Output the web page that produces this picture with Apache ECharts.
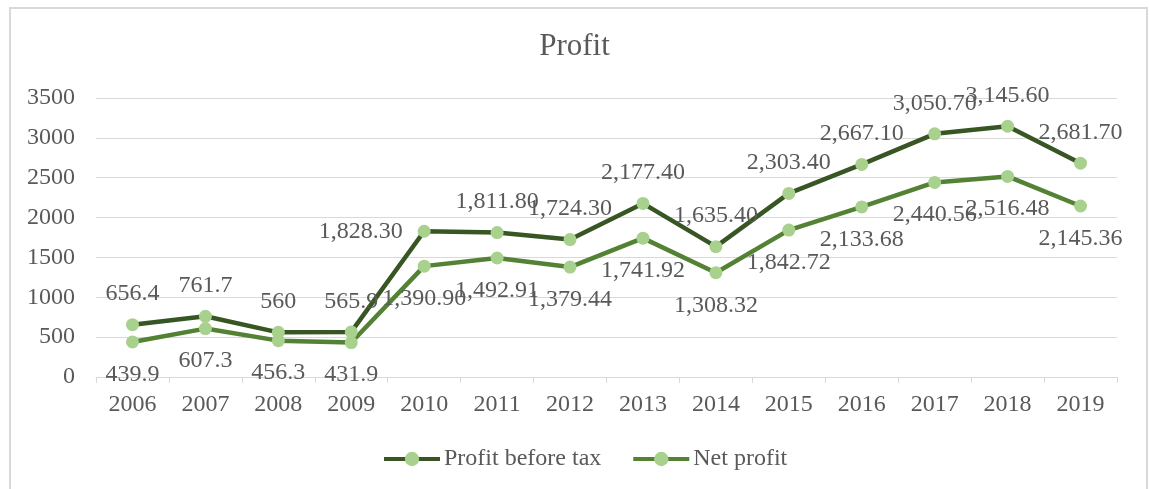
<!DOCTYPE html>
<html lang="en" style="height: 100%">
<head>
    <meta charset="utf-8">
    <title>Profit</title>
    <script src="https://cdn.jsdelivr.net/npm/echarts@6/dist/echarts.min.js"></script>
</head>
<body style="height: 100%; margin: 0">
<div id="container" style="width: 1149px; height: 489px"></div>
<script type="text/javascript">
    var years = ['2006', '2007', '2008', '2009', '2010', '2011', '2012', '2013', '2014', '2015', '2016', '2017', '2018', '2019'];
    var profitBeforeTax = [656.4, 761.7, 560, 565.9, 1828.30, 1811.80, 1724.30, 2177.40, 1635.40, 2303.40, 2667.10, 3050.70, 3145.60, 2681.70];
    var netProfit = [439.9, 607.3, 456.3, 431.9, 1390.90, 1492.91, 1379.44, 1741.92, 1308.32, 1842.72, 2133.68, 2440.56, 2516.48, 2145.36];

    var font = '"Liberation Serif", "Times New Roman", serif';
    var textColor = '#595959';

    // first four years are shown plain, later ones with thousands separators
    function fmt(p) {
        if (p.dataIndex < 4) return String(p.value);
        return p.value.toLocaleString('en-US', {minimumFractionDigits: 2, maximumFractionDigits: 2});
    }

    // the 2010 label of profit before tax sits left of its point
    var pbtData = profitBeforeTax.map(function (v, i) {
        if (years[i] === '2010') {
            return {value: v, label: {position: 'left', distance: 15}};
        }
        return v;
    });

    var myChart = echarts.init(document.getElementById('container'), null, {renderer: 'canvas'});
    var option = {
        animation: false,
        backgroundColor: '#fff',
        title: {
            text: 'Profit',
            left: 'center',
            top: 26,
            textStyle: {fontFamily: font, fontSize: 31, fontWeight: 'normal', color: textColor}
        },
        legend: {
            top: 442,
            left: 377,
            itemWidth: 56,
            itemHeight: 18,
            itemGap: 30,
            lineStyle: {width: 4},
            textStyle: {fontFamily: font, fontSize: 24, color: textColor, padding: [0, 0, 0, -1]},
            data: ['Profit before tax', 'Net profit']
        },
        graphic: [{
            type: 'rect',
            shape: {x: 10, y: 8, width: 1137, height: 490},
            style: {fill: 'none', stroke: '#d9d9d9', lineWidth: 2},
            silent: true
        }],
        grid: {left: 96, right: 32, top: 98, bottom: 112},
        xAxis: {
            type: 'category',
            data: years,
            boundaryGap: true,
            axisLine: {lineStyle: {color: '#d9d9d9', width: 1}},
            axisTick: {show: true, length: 6, lineStyle: {color: '#d9d9d9'}},
            axisLabel: {fontFamily: font, fontSize: 24, color: textColor, margin: 16}
        },
        yAxis: {
            type: 'value',
            min: 0,
            max: 3500,
            interval: 500,
            axisLine: {show: false},
            axisTick: {show: false},
            splitLine: {lineStyle: {color: '#d9d9d9', width: 1}},
            axisLabel: {
                fontFamily: font, fontSize: 24, color: textColor, margin: 21,
                formatter: function (v) { return String(v); }
            }
        },
        series: [
            {
                name: 'Profit before tax',
                type: 'line',
                data: pbtData,
                symbol: 'circle',
                symbolSize: 13,
                lineStyle: {color: '#375623', width: 4.5},
                itemStyle: {color: '#A9D18E'},
                label: {
                    show: true,
                    position: 'top',
                    distance: 12,
                    formatter: fmt,
                    fontFamily: font,
                    fontSize: 24,
                    color: textColor
                },
                z: 3
            },
            {
                name: 'Net profit',
                type: 'line',
                data: netProfit,
                symbol: 'circle',
                symbolSize: 13,
                lineStyle: {color: '#548235', width: 4.5},
                itemStyle: {color: '#A9D18E'},
                label: {
                    show: true,
                    position: 'bottom',
                    distance: 14,
                    formatter: fmt,
                    fontFamily: font,
                    fontSize: 24,
                    color: textColor
                },
                z: 2
            }
        ]
    };
    myChart.setOption(option);
</script>
</body>
</html>
